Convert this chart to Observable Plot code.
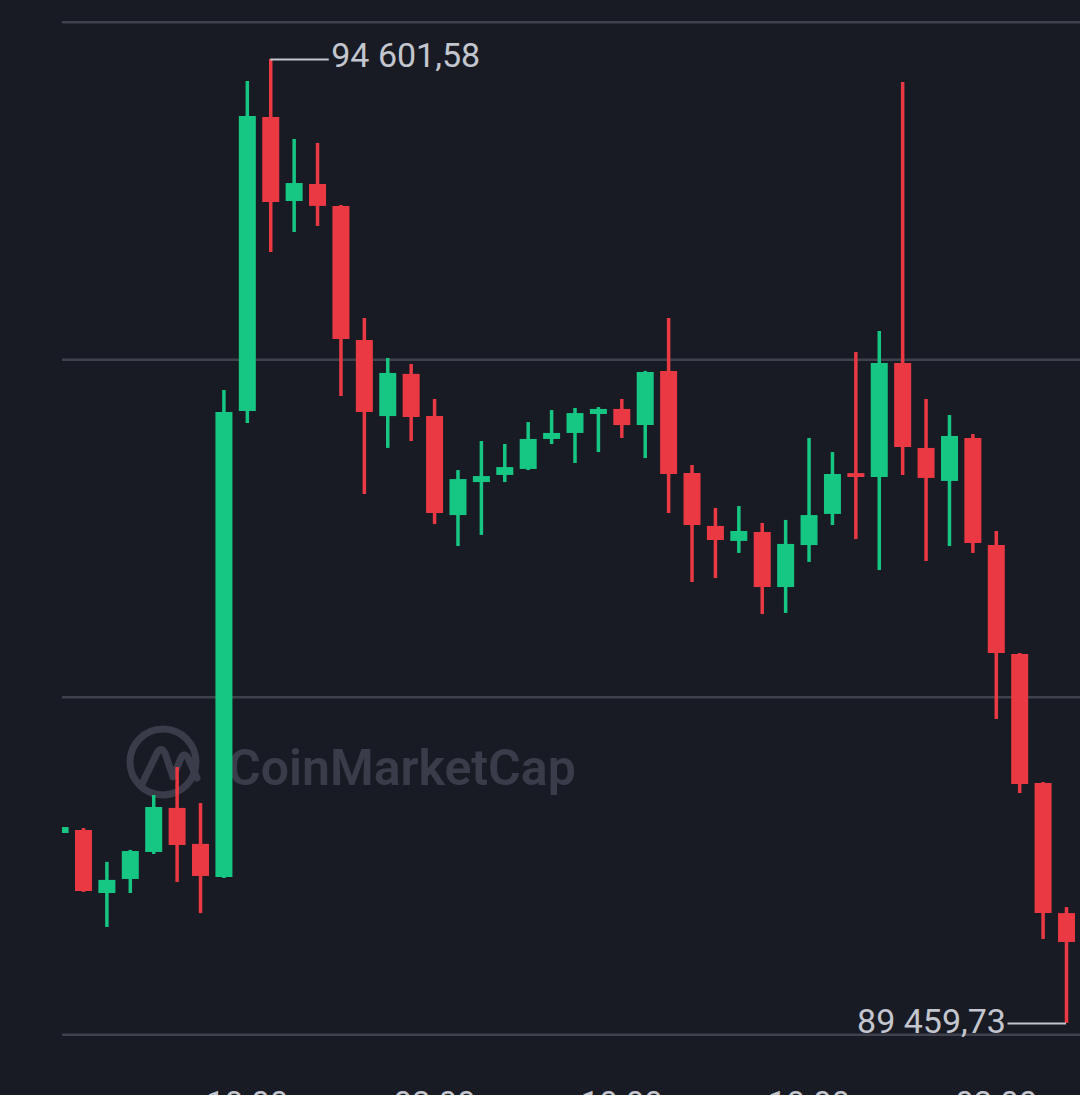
<!DOCTYPE html>
<html><head><meta charset="utf-8">
<script src="https://cdn.jsdelivr.net/npm/d3@7"></script>
<script src="https://cdn.jsdelivr.net/npm/@observablehq/plot@0.6"></script>
<style>
html,body{margin:0;padding:0;background:#191b24;overflow:hidden;}
#chart svg{display:block;}
</style></head><body><div id="chart"></div>
<script>
// Hourly BTC candles (first one is only partly visible at the left edge)
const opens  = [90473,90489,90153,90228,90372,90607,90415,90239,92724,94292,93844,93935,93818,93103,92697,92922,92697,92169,92345,92383,92415,92575,92607,92708,92735,92649,92938,92393,92111,92031,92079,91785,92009,92175,92393,92372,92980,92527,92351,92580,92009,91428,90740,90046];
const highs  = [90511,90500,90319,90383,90676,90825,90633,92836,94484,94601.58,94175,94154,93823,93220,93007,92975,92788,92409,92564,92548,92665,92729,92740,92745,92788,92938,93220,92436,92207,92217,92127,92143,92580,92505,93039,93151,94479,92788,92703,92601,92084,91433,90745,90078];
const lows   = [90468,90159,89972,90153,90361,90212,90046,90233,92660,93572,93679,93711,92804,92281,92527,92564,92121,92004,92063,92345,92409,92548,92447,92505,92580,92473,92180,91812,91833,91967,91641,91647,91919,92116,92041,91876,92383,91924,92004,91967,91081,90687,89908,89459.73];
const closes = [90505,90164,90223,90377,90612,90409,90244,92719,94298,93839,93940,93818,93108,92719,92927,92692,92180,92361,92377,92425,92575,92607,92713,92735,92649,92932,92388,92116,92036,92084,91785,92015,92169,92388,92372,92980,92532,92367,92591,92020,91433,90735,90046,89892];
const firstIndex = -1;
const tickIndex  = [7, 15, 23, 31, 39];
const tickLabels = ["18:00", "02:00", "10:00", "18:00", "02:00"];
const gridPrices = [89400, 91200, 93000, 94800];
const watermark  = "CoinMarketCap";

const GREEN = "#16c784", RED = "#ea3943", TEXT = "#c3c6ce", GRID = "#3f414d", BG = "#191b24", WM = "#3a3d49";

const candles = opens.map((o, k) => ({
  i: k + firstIndex, open: o, high: highs[k], low: lows[k], close: closes[k], up: closes[k] >= o
}));
const maxC = candles.reduce((a, b) => (b.high > a.high ? b : a));
const minC = candles.reduce((a, b) => (b.low < a.low ? b : a));
const fmt = d3.formatLocale({decimal: ",", thousands: " ", grouping: [3], currency: ["", ""]}).format(",.2f");
const col = d => (d.up ? GREEN : RED);

const chart = Plot.plot({
  width: 1080, height: 1120,
  marginLeft: 62, marginRight: 0, marginTop: 0, marginBottom: 80,
  style: {background: BG, color: TEXT, fontFamily: "Roboto, sans-serif"},
  x: {domain: [0, 42], range: [83, 1066]},
  y: {domain: [minC.low, maxC.high], range: [1023, 59], axis: null},
  marks: [
    Plot.ruleY(gridPrices, {stroke: GRID, strokeWidth: 2.5}),
    Plot.ruleX(candles, {x: "i", y1: "low", y2: "high", stroke: col, strokeWidth: 3.5, clip: true}),
    Plot.ruleX(candles, {x: "i", y1: "open", y2: "close", stroke: col, strokeWidth: 17, clip: true}),
    Plot.ruleY([maxC], {y: "high", x1: "i", x2: d => d.i + 2.5, stroke: TEXT, strokeWidth: 2}),
    Plot.text([maxC], {x: d => d.i + 2.5, y: "high", text: d => fmt(d.high), textAnchor: "start", dx: 2, dy: -3, fontSize: 34, fill: TEXT}),
    Plot.ruleY([minC], {y: "low", x1: d => d.i - 2.5, x2: "i", stroke: TEXT, strokeWidth: 2}),
    Plot.text([minC], {x: d => d.i - 2.5, y: "low", text: d => fmt(d.low), textAnchor: "end", dx: -2, dy: -1, fontSize: 34, fill: TEXT}),
    Plot.axisX({ticks: tickIndex, tickFormat: v => tickLabels[tickIndex.indexOf(v)], tickSize: 0, tickPadding: 51, fontSize: 33})
  ]
});
document.getElementById("chart").append(chart);

// Watermark (decoration, behind the marks)
const ns = "http://www.w3.org/2000/svg";
const g = document.createElementNS(ns, "g");
g.setAttribute("aria-label", "watermark");
const wm = d3.select(g);
wm.append("circle").attr("cx", 163).attr("cy", 762).attr("r", 33)
  .attr("fill", "none").attr("stroke", WM).attr("stroke-width", 7);
wm.append("path").attr("d", "M141,786 L157,753 Q161,746 165,753 L173,777 L181,758 Q184,752 188,758 L197,778")
  .attr("fill", "none").attr("stroke", WM).attr("stroke-width", 7)
  .attr("stroke-linecap", "round").attr("stroke-linejoin", "round");
wm.append("text").attr("x", 228).attr("y", 785).attr("fill", WM)
  .attr("text-anchor", "start")
  .attr("font-size", 50).attr("font-weight", 600).attr("font-family", "Roboto, sans-serif")
  .text(watermark);
const firstG = chart.querySelector("g");
chart.insertBefore(g, firstG);
</script>
</body></html>
